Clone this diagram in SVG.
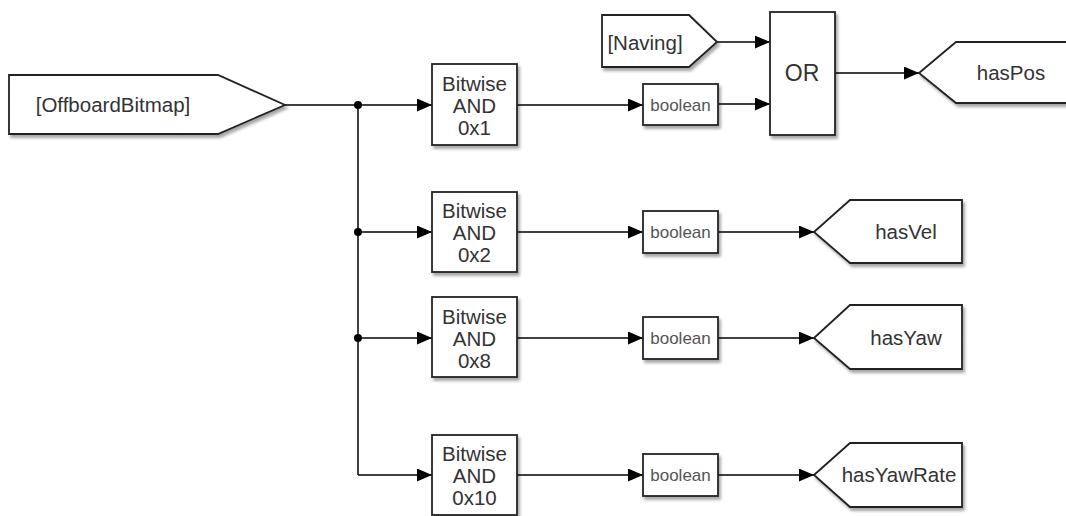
<svg xmlns="http://www.w3.org/2000/svg" width="1066" height="516" viewBox="0 0 1066 516">
<defs>
<filter id="sh" x="-10%" y="-10%" width="130%" height="140%">
<feDropShadow dx="2" dy="3" stdDeviation="1.8" flood-color="#000" flood-opacity="0.35"/>
</filter>
<marker id="arr" viewBox="0 0 15 13" refX="15" refY="6.5" markerWidth="15" markerHeight="13" orient="auto" markerUnits="userSpaceOnUse">
<path d="M0,0 L15,6.5 L0,13 z" fill="#000"/>
</marker>
</defs>
<style>
.blk{fill:#fff;stroke:#222;stroke-width:1.8;filter:url(#sh)}
.t{font-family:"Liberation Sans",Arial,sans-serif;font-size:20.5px;fill:#333;text-anchor:middle}
.tb{font-family:"Liberation Sans",Arial,sans-serif;font-size:17px;fill:#555;text-anchor:middle}
.tor{font-family:"Liberation Sans",Arial,sans-serif;font-size:23px;fill:#333;text-anchor:middle}
.w{fill:none;stroke:#000;stroke-width:1.5}
.wa{fill:none;stroke:#000;stroke-width:1.5;marker-end:url(#arr)}
</style>
<rect width="1066" height="516" fill="#fff"/>

<g id="connectors">
<path class="w" d="M285,105 L358,105"/>
<path class="wa" d="M358,105 L432,105"/>
<path class="w" d="M358,105 L358,475"/>
<path class="wa" d="M358,232 L432,232"/>
<path class="wa" d="M358,338 L432,338"/>
<path class="wa" d="M358,475 L432,475"/>
<circle cx="358" cy="105" r="4" fill="#000"/>
<circle cx="358" cy="232" r="4" fill="#000"/>
<circle cx="358" cy="338" r="4" fill="#000"/>
<path class="wa" d="M517,105 L643,105"/>
<path class="wa" d="M517,232 L643,232"/>
<path class="wa" d="M517,338 L643,338"/>
<path class="wa" d="M517,475 L643,475"/>
<path class="wa" d="M718,104 L770,104"/>
<path class="wa" d="M717,42 L770,42"/>
<path class="wa" d="M835,73 L919,73"/>
<path class="wa" d="M718,232 L814,232"/>
<path class="wa" d="M718,338 L814,338"/>
<path class="wa" d="M718,475 L814,475"/>
</g>

<g id="offboardBitmap">
<path class="blk" d="M9,75 L218,75 L285,105 L218,134 L9,134 Z"/>
<text class="t" x="113" y="112">[OffboardBitmap]</text>
</g>

<g id="naving">
<path class="blk" d="M602,15 L689,15 L717,42 L689,67 L602,67 Z"/>
<text class="t" x="645" y="50">[Naving]</text>
</g>

<g id="or">
<rect class="blk" x="770" y="12" width="65" height="123"/>
<text class="tor" x="802" y="81">OR</text>
</g>

<g id="hasPos">
<path class="blk" d="M919,73 L956,42 L1068,42 L1068,103 L956,103 Z"/>
<text class="t" x="1011" y="80">hasPos</text>
</g>

<g id="bitwise1">
<rect class="blk" x="432" y="64" width="85" height="81"/>
<text class="t" x="474.5" y="91">Bitwise</text>
<text class="t" x="474.5" y="113">AND</text>
<text class="t" x="474.5" y="135">0x1</text>
</g>
<g id="bitwise2">
<rect class="blk" x="432" y="192" width="85" height="80"/>
<text class="t" x="474.5" y="218">Bitwise</text>
<text class="t" x="474.5" y="240">AND</text>
<text class="t" x="474.5" y="262">0x2</text>
</g>
<g id="bitwise3">
<rect class="blk" x="432" y="297" width="85" height="80"/>
<text class="t" x="474.5" y="324">Bitwise</text>
<text class="t" x="474.5" y="346">AND</text>
<text class="t" x="474.5" y="368">0x8</text>
</g>
<g id="bitwise4">
<rect class="blk" x="432" y="435" width="85" height="80"/>
<text class="t" x="474.5" y="461">Bitwise</text>
<text class="t" x="474.5" y="483">AND</text>
<text class="t" x="474.5" y="505">0x10</text>
</g>

<g id="boolean1">
<rect class="blk" x="643" y="84" width="75" height="41"/>
<text class="tb" x="680.5" y="110.5">boolean</text>
</g>
<g id="boolean2">
<rect class="blk" x="643" y="211" width="75" height="42"/>
<text class="tb" x="680.5" y="237.5">boolean</text>
</g>
<g id="boolean3">
<rect class="blk" x="643" y="317" width="75" height="42"/>
<text class="tb" x="680.5" y="343.5">boolean</text>
</g>
<g id="boolean4">
<rect class="blk" x="643" y="454" width="75" height="42"/>
<text class="tb" x="680.5" y="480.5">boolean</text>
</g>

<g id="hasVel">
<path class="blk" d="M814,232 L850,200 L962,200 L962,263 L850,263 Z"/>
<text class="t" x="906" y="239">hasVel</text>
</g>
<g id="hasYaw">
<path class="blk" d="M814,338 L850,305 L962,305 L962,369 L850,369 Z"/>
<text class="t" x="906" y="345">hasYaw</text>
</g>
<g id="hasYawRate">
<path class="blk" d="M814,475 L850,443 L962,443 L962,507 L850,507 Z"/>
<text class="t" x="899" y="482">hasYawRate</text>
</g>
</svg>
